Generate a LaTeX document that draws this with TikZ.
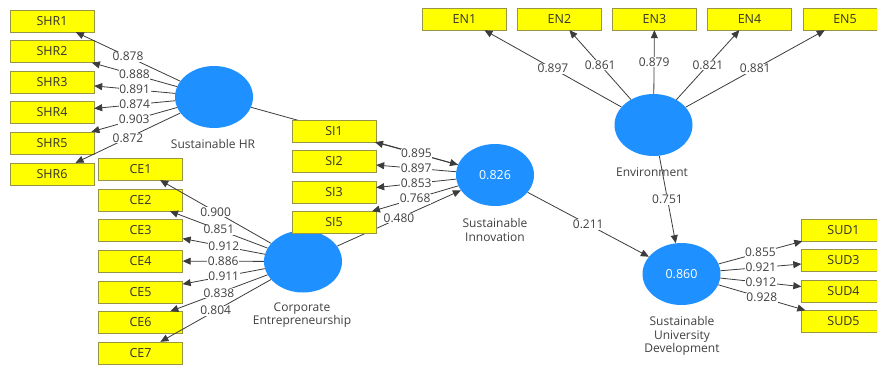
\documentclass[tikz,border=0pt]{standalone}
\usepackage{fontspec}
\setmainfont{Open Sans}
\usetikzlibrary{shapes.geometric,arrows.meta,backgrounds}
\definecolor{boxfill}{RGB}{255,255,0}
\definecolor{boxline}{RGB}{150,150,70}
\definecolor{lvfill}{RGB}{30,144,255}
\definecolor{lncol}{RGB}{60,60,60}
\definecolor{txtcol}{RGB}{64,64,64}
\begin{document}
\begin{tikzpicture}[x=1pt,y=-1pt,
  ind/.style={draw=boxline, fill=boxfill, minimum width=84pt, minimum height=22pt, inner sep=0pt, text=black!80, font=\fontsize{12.5}{13}\selectfont},
  lat/.style={ellipse, fill=lvfill, minimum width=78pt, minimum height=62pt, inner sep=0pt, text=white, font=\fontsize{12.5}{13}\selectfont},
  captext/.style={text=txtcol, align=center, font=\fontsize{12}{13.5}\selectfont},
  ld/.style={draw=lncol, line width=0.8pt, -{Triangle[length=8pt,width=7pt]}},
  lab/.style={fill=white, inner sep=0.6pt, text=txtcol, font=\fontsize{12}{12}\selectfont}]
\useasboundingbox (0,0) rectangle (877,364);
\clip (0,0) rectangle (877,364);

% latent variables
\node[lat] (hr) at (214,97) {};
\node[lat] (ce) at (303,261.5) {};
\node[lat] (si) at (495,175) {0.826};
\node[lat] (en) at (653.5,125) {};
\node[lat] (sud) at (681.5,274) {0.860};

% captions
\node[captext] (hrc) at (213,144) {Sustainable HR};
\node[captext] (cec) at (302,315) {Corporate\\Entrepreneurship};
\node[captext] (sic) at (495,230) {Sustainable\\Innovation};
\node[captext] (enc) at (652,172) {Environment};
\node[captext] (sudc) at (682,336) {Sustainable\\University\\Development};

% indicators
\node[ind] (shr1) at (52,21) {SHR1};
\node[ind] (shr2) at (52,51.5) {SHR2};
\node[ind] (shr3) at (52,82) {SHR3};
\node[ind] (shr4) at (52,112.5) {SHR4};
\node[ind] (shr5) at (52,143) {SHR5};
\node[ind] (shr6) at (52,174) {SHR6};

\node[ind] (ce1) at (140.5,169) {CE1};
\node[ind] (ce2) at (140.5,200) {CE2};
\node[ind] (ce3) at (140.5,230.5) {CE3};
\node[ind] (ce4) at (140.5,261) {CE4};
\node[ind] (ce5) at (140.5,292) {CE5};
\node[ind] (ce6) at (140.5,322.5) {CE6};
\node[ind] (ce7) at (140.5,353) {CE7};

\node[ind] (si1) at (334,131) {SI1};
\node[ind] (si2) at (334,161.5) {SI2};
\node[ind] (si3) at (334,192) {SI3};
\node[ind] (si5) at (334,222.5) {SI5};

\node[ind] (en1) at (464.5,19) {EN1};
\node[ind] (en2) at (559.5,19) {EN2};
\node[ind] (en3) at (654.5,19) {EN3};
\node[ind] (en4) at (749.5,19) {EN4};
\node[ind] (en5) at (845,19) {EN5};

\node[ind] (sud1) at (843.5,230) {SUD1};
\node[ind] (sud3) at (843.5,260.5) {SUD3};
\node[ind] (sud4) at (843.5,291) {SUD4};
\node[ind] (sud5) at (843.5,321.5) {SUD5};

% white page and structural paths passing behind indicator boxes
\begin{scope}[on background layer]
\fill[white] (0,0) rectangle (877,364);
\draw[ld] (hr) -- (si);
\draw[ld] (ce) -- node[lab]{0.480} (si);
\end{scope}
\draw[ld] (si) -- node[lab]{0.211} (sud);
\draw[ld] (en) -- node[lab]{0.751} (sud);

% loadings
\draw[ld] (hr) -- node[lab]{0.878} (shr1);
\draw[ld] (hr) -- node[lab]{0.888} (shr2);
\draw[ld] (hr) -- node[lab]{0.891} (shr3);
\draw[ld] (hr) -- node[lab]{0.874} (shr4);
\draw[ld] (hr) -- node[lab]{0.903} (shr5);
\draw[ld] (hr) -- node[lab]{0.872} (shr6);

\draw[ld] (ce) -- node[lab]{0.900} (ce1);
\draw[ld] (ce) -- node[lab]{0.851} (ce2);
\draw[ld] (ce) -- node[lab]{0.912} (ce3);
\draw[ld] (ce) -- node[lab]{0.886} (ce4);
\draw[ld] (ce) -- node[lab]{0.911} (ce5);
\draw[ld] (ce) -- node[lab]{0.838} (ce6);
\draw[ld] (ce) -- node[lab]{0.804} (ce7);

\draw[ld] (si) -- node[lab]{0.895} (si1);
\draw[ld] (si) -- node[lab]{0.897} (si2);
\draw[ld] (si) -- node[lab]{0.853} (si3);
\draw[ld] (si) -- node[lab]{0.768} (si5);

\draw[ld] (en) -- node[lab]{0.897} (en1);
\draw[ld] (en) -- node[lab]{0.861} (en2);
\draw[ld] (en) -- node[lab]{0.879} (en3);
\draw[ld] (en) -- node[lab]{0.821} (en4);
\draw[ld] (en) -- node[lab]{0.881} (en5);

\draw[ld] (sud) -- node[lab]{0.855} (sud1);
\draw[ld] (sud) -- node[lab]{0.921} (sud3);
\draw[ld] (sud) -- node[lab]{0.912} (sud4);
\draw[ld] (sud) -- node[lab]{0.928} (sud5);
\end{tikzpicture}
\end{document}
